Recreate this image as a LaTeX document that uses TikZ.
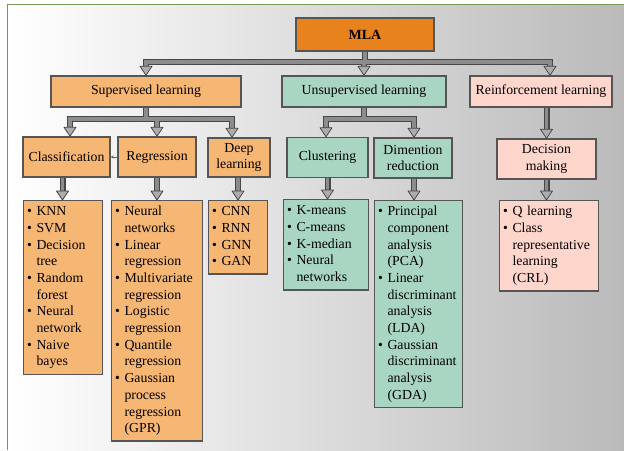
\documentclass[tikz,border=0pt]{standalone}
\usepackage{fontspec}
\setmainfont{Liberation Serif}
\usetikzlibrary{calc,arrows.meta}
\definecolor{orangeA}{RGB}{232,130,28}
\definecolor{orangeL}{RGB}{246,182,116}
\definecolor{mint}{RGB}{169,214,194}
\definecolor{pinkL}{RGB}{255,214,204}
\definecolor{frameG}{RGB}{120,154,88}
\definecolor{bgR}{RGB}{186,186,186}
\definecolor{edgeD}{RGB}{85,85,85}
\definecolor{stemG}{RGB}{140,140,140}
\newcommand\arrowhead[1]{\filldraw[tip] ($(#1)+(-6,-9)$) -- ($(#1)+(6,-9)$) -- (#1) -- cycle;}
\newcommand\fattree[3]{%
  \coordinate (bar) at ($(#1)+(0,#2)$);
  \foreach \s in {fatout,fatin}{%
    \draw[\s] (#1) -- (bar);
    \foreach \tg in {#3}{\draw[\s] (bar) -| ($(\tg)+(0,-9)$);}
  }
  \foreach \tg in {#3}{\arrowhead{\tg}}
}
\newcommand\fatline[2]{%
  \foreach \s in {fatout,fatin}{\draw[\s] (#1) -- ($(#2)+(0,-9)$);}
  \arrowhead{#2}
}
\begin{document}
\begin{tikzpicture}[x=1pt,y=-1pt,
  txt/.style={font=\fontsize{13.8}{16.7}\selectfont},
  box/.style={txt, draw=edgeD, line width=1.4pt, rectangle, inner sep=2pt, align=center},
  lst/.style={txt, draw=edgeD, line width=1.4pt, rectangle, anchor=north west, inner xsep=3.5pt, inner ysep=3.3pt, align=left},
  fatout/.style={line width=6pt, draw=black!72, line join=miter},
  fatin/.style={line width=3.6pt, draw=stemG, line join=miter},
  tip/.style={fill=gray!65, draw=black!75, line width=0.7pt, line join=round}
]
\useasboundingbox (0,0) rectangle (624,450);
\fill[white] (0,0) rectangle (624,450);
\shade[left color=white, right color=bgR] (8,5) rectangle (624,450);
\draw[frameG, line width=1.5pt] (7.5,450) -- (7.5,4.5) -- (624,4.5);

% top level
\node[box, fill=orangeA, minimum width=138pt, minimum height=33pt, font=\fontsize{14}{16}\selectfont\bfseries] (mla) at (365,34.5) {MLA};
\node[box, fill=orangeL, minimum width=190pt, minimum height=31pt] (sup) at (146,91.5) {Supervised learning};
\node[box, fill=mint, minimum width=164pt, minimum height=31pt] (uns) at (364,91.5) {Unsupervised learning};
\node[box, fill=pinkL, minimum width=142pt, minimum height=31pt] (rei) at (541,91.5) {Reinforcement learning};

% second level
\node[box, fill=orangeL, minimum width=87pt, minimum height=40pt] (cla) at (66.5,157) {Classification};
\node[box, fill=orangeL, minimum width=78pt, minimum height=40pt] (reg) at (157,157) {Regression};
\node[box, fill=orangeL, minimum width=62pt, minimum height=39pt] (deep) at (239,157.5) {Deep\\learning};
\node[box, fill=mint, minimum width=81pt, minimum height=40pt] (clu) at (327.5,157.5) {Clustering};
\node[box, fill=mint, minimum width=78pt, minimum height=40pt] (dim) at (413,158) {Dimention\\reduction};
\node[box, fill=pinkL, minimum width=99pt, minimum height=40pt] (dec) at (546.5,159) {Decision\\making};

% lists
\node[lst, fill=orangeL, text width=72pt] (l1) at (23,200) {\begin{tabular}{@{}l@{\hspace{4.5pt}}l@{}}
\textbullet & KNN\\ \textbullet & SVM\\ \textbullet & Decision\\ & tree\\ \textbullet & Random\\ & forest\\ \textbullet & Neural\\ & network\\ \textbullet & Naive\\ & bayes\end{tabular}};
\node[lst, fill=orangeL, text width=84pt] (l2) at (111,200) {\begin{tabular}{@{}l@{\hspace{4.5pt}}l@{}}
\textbullet & Neural\\ & networks\\ \textbullet & Linear\\ & regression\\ \textbullet & Multivariate\\ & regression\\ \textbullet & Logistic\\ & regression\\ \textbullet & Quantile\\ & regression\\ \textbullet & Gaussian\\ & process\\ & regression\\ & (GPR)\end{tabular}};
\node[lst, fill=orangeL, text width=52pt] (l3) at (208,200) {\begin{tabular}{@{}l@{\hspace{4.5pt}}l@{}}
\textbullet & CNN\\ \textbullet & RNN\\ \textbullet & GNN\\ \textbullet & GAN\end{tabular}};
\node[lst, fill=mint, text width=78pt] (l4) at (283,199) {\begin{tabular}{@{}l@{\hspace{4.5pt}}l@{}}
\textbullet & K-means\\ \textbullet & C-means\\ \textbullet & K-median\\ \textbullet & Neural\\ & networks\end{tabular}};
\node[lst, fill=mint, text width=81pt] (l5) at (374,200) {\begin{tabular}{@{}l@{\hspace{4.5pt}}l@{}}
\textbullet & Principal\\ & component\\ & analysis\\ & (PCA)\\ \textbullet & Linear\\ & discriminant\\ & analysis\\ & (LDA)\\ \textbullet & Gaussian\\ & discriminant\\ & analysis\\ & (GDA)\end{tabular}};
\node[lst, fill=pinkL, text width=92pt] (l6) at (499,200) {\begin{tabular}{@{}l@{\hspace{4.5pt}}l@{}}
\textbullet & Q learning\\ \textbullet & Class\\ & representative\\ & learning\\ & (CRL)\end{tabular}};

% connectors
\coordinate (t13) at ($(rei.north)+(9,0)$);
\fattree{mla.south}{10}{sup.north,uns.north,t13}
\coordinate (t21) at ($(cla.north)+(3.5,0)$);
\coordinate (t23) at ($(deep.north)+(-7,0)$);
\fattree{sup.south}{11}{t21,reg.north,t23}
\coordinate (t31) at ($(clu.north)+(-1.5,0)$);
\coordinate (t32) at ($(dim.north)+(1,0)$);
\fattree{uns.south}{11}{t31,t32}
\coordinate (s4) at (dec.north |- rei.south);
\fatline{s4}{dec.north}

\coordinate (e1) at ($(cla.south)+(-4,0)$); \coordinate (f1) at (e1 |- l1.north);
\fatline{e1}{f1}
\coordinate (f2) at (reg.south |- l2.north); \fatline{reg.south}{f2}
\coordinate (e3) at ($(deep.south)+(-1,0)$); \coordinate (f3) at (e3 |- l3.north);
\fatline{e3}{f3}
\coordinate (f4) at (clu.south |- l4.north); \fatline{clu.south}{f4}
\coordinate (e5) at ($(dim.south)+(1,0)$); \coordinate (f5) at (e5 |- l5.north);
\fatline{e5}{f5}
\coordinate (f6) at (dec.south |- l6.north); \fatline{dec.south}{f6}

\draw[frameG!70!black, line width=0.6pt, -{Stealth[length=3pt,width=3pt]}] (reg.west) -- (cla.east);
\end{tikzpicture}
\end{document}
